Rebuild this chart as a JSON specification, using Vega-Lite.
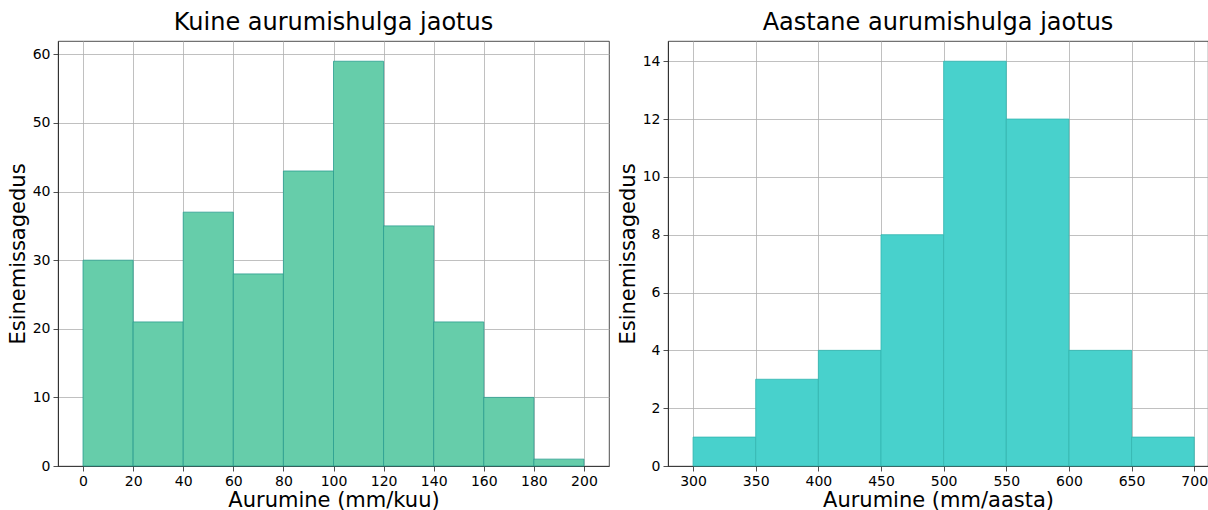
{
  "$schema": "https://vega.github.io/schema/vega-lite/v6.json",
  "autosize": {"type": "pad"},
  "padding": {"left": 6, "top": 10, "right": 0, "bottom": 0},
  "background": "white",
  "datasets": {
    "monthly": [
      {"start": 0, "end": 20, "count": 30},
      {"start": 20, "end": 40, "count": 21},
      {"start": 40, "end": 60, "count": 37},
      {"start": 60, "end": 80, "count": 28},
      {"start": 80, "end": 100, "count": 43},
      {"start": 100, "end": 120, "count": 59},
      {"start": 120, "end": 140, "count": 35},
      {"start": 140, "end": 160, "count": 21},
      {"start": 160, "end": 180, "count": 10},
      {"start": 180, "end": 200, "count": 1}
    ],
    "yearly": [
      {"start": 300, "end": 350, "count": 1},
      {"start": 350, "end": 400, "count": 3},
      {"start": 400, "end": 450, "count": 4},
      {"start": 450, "end": 500, "count": 8},
      {"start": 500, "end": 550, "count": 14},
      {"start": 550, "end": 600, "count": 12},
      {"start": 600, "end": 650, "count": 4},
      {"start": 650, "end": 700, "count": 1}
    ]
  },
  "config": {
    "font": "DejaVu Sans",
    "view": {"stroke": "#222222", "strokeWidth": 0.8},
    "concat": {"spacing": 59},
    "axis": {
      "zindex": 1,
      "grid": true,
      "gridColor": "#b0b0b0",
      "gridWidth": 0.8,
      "domainColor": "#222222",
      "domainWidth": 0.8,
      "tickColor": "#222222",
      "tickWidth": 0.8,
      "tickSize": 5,
      "labelFont": "DejaVu Sans",
      "labelFontSize": 14,
      "labelColor": "#000000",
      "labelPadding": 3,
      "titleFont": "DejaVu Sans",
      "titleFontSize": 21,
      "titleFontWeight": "normal",
      "titleColor": "#000000",
      "labelFlush": false,
      "labelOverlap": false
    },
    "axisX": {"titlePadding": 1},
    "axisY": {"titlePadding": 4},
    "title": {"font": "DejaVu Sans", "fontSize": 24, "fontWeight": "normal", "color": "#000000", "offset": 6, "anchor": "middle"}
  },
  "hconcat": [
    {
      "width": 551,
      "height": 425,
      "title": "Kuine aurumishulga jaotus",
      "data": {"name": "monthly"},
      "mark": {"type": "bar", "color": "#66CDAA", "stroke": "#2a9d8f", "strokeWidth": 0.8, "opacity": 1},
      "encoding": {
        "x": {"field": "start", "type": "quantitative", "scale": {"domain": [-10, 210], "nice": false, "zero": false}, "axis": {"values": [0, 20, 40, 60, 80, 100, 120, 140, 160, 180, 200], "title": "Aurumine (mm/kuu)"}},
        "x2": {"field": "end"},
        "y": {"field": "count", "type": "quantitative", "scale": {"domain": [0, 61.95], "nice": false}, "axis": {"values": [0, 10, 20, 30, 40, 50, 60], "title": "Esinemissagedus"}},
        "y2": {"datum": 0}
      }
    },
    {
      "width": 540,
      "height": 425,
      "title": "Aastane aurumishulga jaotus",
      "data": {"name": "yearly"},
      "mark": {"type": "bar", "color": "#48D1CC", "stroke": "#33b5b0", "strokeWidth": 0.8, "opacity": 1},
      "encoding": {
        "x": {"field": "start", "type": "quantitative", "scale": {"domain": [280, 711], "nice": false, "zero": false}, "axis": {"values": [300, 350, 400, 450, 500, 550, 600, 650, 700], "title": "Aurumine (mm/aasta)"}},
        "x2": {"field": "end"},
        "y": {"field": "count", "type": "quantitative", "scale": {"domain": [0, 14.7], "nice": false}, "axis": {"values": [0, 2, 4, 6, 8, 10, 12, 14], "title": "Esinemissagedus"}},
        "y2": {"datum": 0}
      }
    }
  ],
  "resolve": {"scale": {"x": "independent", "y": "independent"}},
  "bounds": "flush"
}
